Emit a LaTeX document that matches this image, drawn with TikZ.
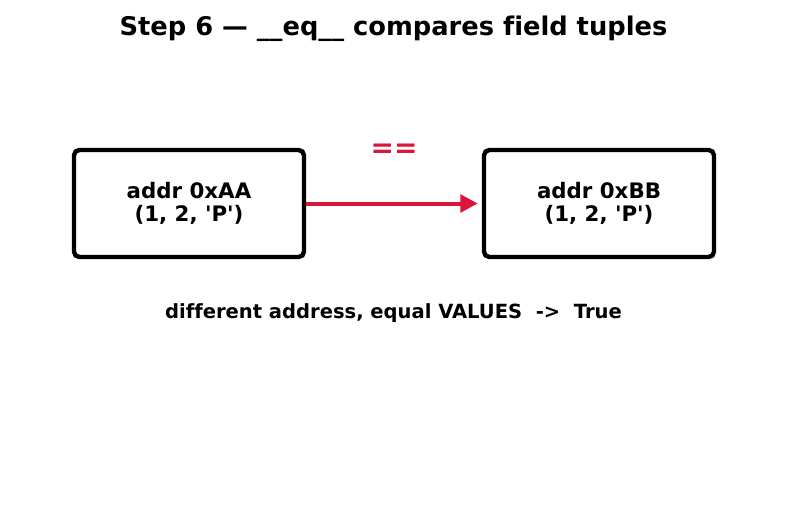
\documentclass[tikz,border=0pt]{standalone}
\usepackage{fontspec}
\setmainfont{DejaVu Sans}[Ligatures={NoCommon}]
\usetikzlibrary{positioning, arrows.meta, calc}
\definecolor{eqcrimson}{HTML}{DC143C}

\begin{document}
\begin{tikzpicture}[x=0.75pt, y=-0.75pt,
                objbox/.style={draw=black, line width=3.3pt, rectangle, rounded corners=4pt, minimum width=172.5pt, minimum height=80.25pt, align=center, font=\bfseries\fontsize{16}{17.4}\selectfont},
                eqarrow/.style={draw=eqcrimson, line width=3pt, -{Triangle[length=13pt, width=13pt]}, shorten >=3pt},
                eqlabel/.style={text=eqcrimson, font=\bfseries\fontsize{21}{24}\selectfont},
                caption/.style={font=\bfseries\fontsize{14.65}{16}\selectfont}
            ]
            \useasboundingbox (0,0) rectangle (787,512);

            % Titel
            \node[font=\bfseries\fontsize{19.3}{22}\selectfont] (title) at (393.5,28.5) {Step 6 — \_\_eq\_\_ compares field tuples};

            % Objekte
            \node[objbox] (objA) at (189,203.5) {addr 0xAA\\(1, 2, \textquotesingle P\textquotesingle)};
            \node[objbox] (objB) at (599,203.5) {addr 0xBB\\(1, 2, \textquotesingle P\textquotesingle)};

            % Vergleich
            \draw[eqarrow] (objA.east) -- (objB.west) node[midway, above=30pt, eqlabel] (eq) {==};

            \node[caption] (result) at (393.5,313) {different address, equal VALUES\ \ ->\ \ True};

        \end{tikzpicture}
\end{document}
